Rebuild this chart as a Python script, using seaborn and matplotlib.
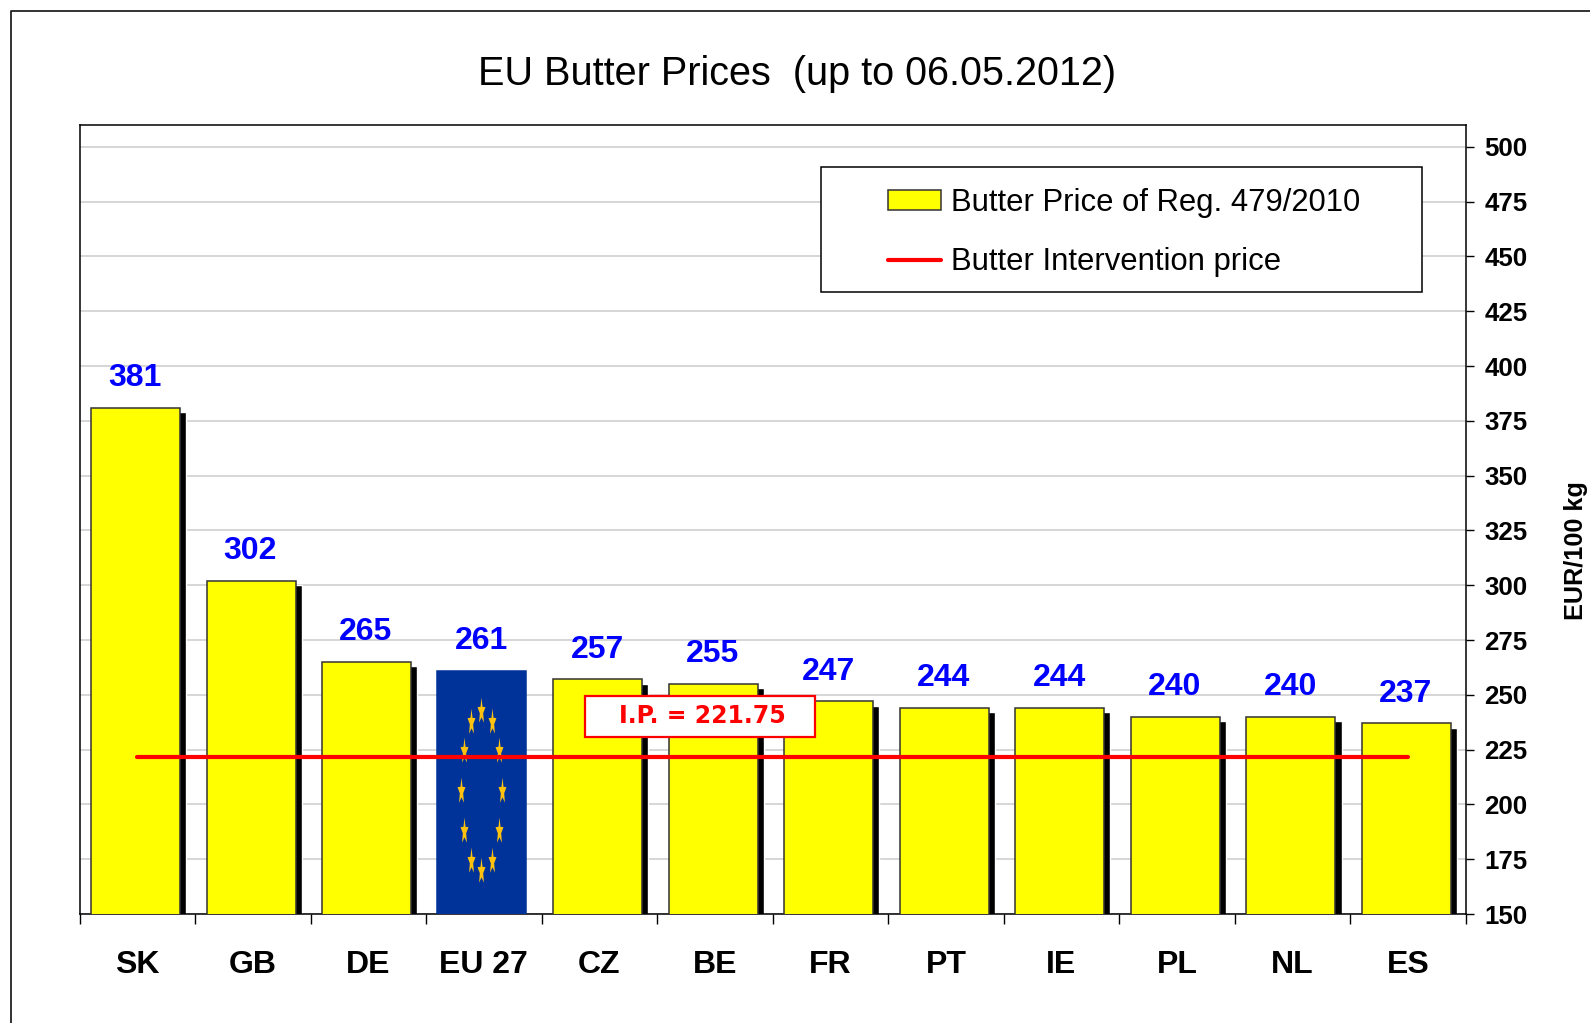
import matplotlib
matplotlib.use("Agg")
import matplotlib.pyplot as plt
from matplotlib.lines import Line2D
from matplotlib.patches import Patch, Rectangle
from matplotlib.path import Path
from matplotlib.ticker import FixedLocator
import seaborn as sns
import numpy as np
import pandas as pd

countries = ["SK", "GB", "DE", "EU 27", "CZ", "BE", "FR", "PT", "IE", "PL", "NL", "ES"]
prices = [381, 302, 265, 261, 257, 255, 247, 244, 244, 240, 240, 237]
intervention_price = 221.75
y_ticks = list(range(150, 525, 25))

sns.set_style("white")
plt.rcParams['font.family'] = ['Liberation Sans', 'DejaVu Sans']
plt.rcParams['text.color'] = 'black'
plt.rcParams['axes.labelcolor'] = 'black'
plt.rcParams['xtick.color'] = 'black'
plt.rcParams['ytick.color'] = 'black'

df = pd.DataFrame({"country": countries, "price": prices})
df["pos"] = range(len(df))
df["ip"] = intervention_price

W, H = 1590, 1023
fig = plt.figure(figsize=(W / 100, H / 100), dpi=100)
ax = fig.add_axes([79.5 / W, 1 - 914 / H, (1465.7 - 79.5) / W, (914 - 125) / H])

# black shadow behind each bar, shifted right and a bit lower (the flag bar has none)
shadow = df[df["country"] != "EU 27"]
ax.bar(shadow["pos"] + 0.04, shadow["price"] - 2, width=0.77, color="black", zorder=2)

colors = ["#003399" if c == "EU 27" else "#ffff00" for c in countries]
sns.barplot(data=df, x="country", y="price", hue="country", palette=colors, legend=False,
            width=0.77, saturation=1, edgecolor="#333333", linewidth=1.1, ax=ax, zorder=3)
for patch in ax.patches[len(shadow):]:
    patch.set_x(patch.get_x() - 0.013)
eu_pos = countries.index("EU 27")
ax.patches[len(shadow) + eu_pos].set_edgecolor("#003399")
ax.patches[len(shadow) + eu_pos].set_x(eu_pos - 0.385 - 0.02)

# EU flag stars on the EU 27 bar
star = Path.unit_regular_star(5, 0.42)
star = Path(star.vertices * [0.3, 1.0], star.codes)
angles = np.deg2rad(np.arange(0, 360, 30))
ax.scatter(eu_pos - 0.02 + 0.175 * np.cos(angles), 206 + 36.5 * np.sin(angles), marker=star,
           s=400, color="#ffc20e", linewidths=0, zorder=4)

sns.lineplot(data=df, x="pos", y="ip", color="#ff0000", linewidth=3, sort=False, ax=ax, zorder=5)

for x, v in zip(df["pos"], df["price"]):
    ax.annotate(str(v), (x - 0.02, v), xytext=(0, 10.5), textcoords="offset points", ha="center", va="bottom",
                color="#0000ff", fontsize=23, fontweight="bold", zorder=6)

ax.add_patch(Rectangle((3.876, 230.8), 1.991, 18.7, facecolor="white", edgecolor="#ff0000", linewidth=1.6, zorder=7))
ax.text(4.89, 240.4, "I.P. = 221.75", ha="center", va="center", color="#ff0000", fontsize=17,
        fontweight="bold", family="DejaVu Sans", zorder=8)

ax.set_xlim(-0.5, 11.5)
ax.set_ylim(150, 510)
ax.yaxis.tick_right()
ax.yaxis.set_label_position("right")
ax.set_yticks(y_ticks)
ax.set_xticks(df["pos"])
ax.set_xticklabels(countries)
ax.xaxis.set_minor_locator(FixedLocator(np.arange(-0.5, 12, 1)))
ax.tick_params(axis="x", which="major", length=0, pad=26, labelsize=23)
ax.tick_params(axis="x", which="minor", length=7.2, width=1, color="black", bottom=True)
ax.tick_params(axis="y", which="major", length=5.5, width=1, color="black", right=True, labelsize=18.6, pad=8)
for t in ax.get_xticklabels() + ax.get_yticklabels():
    t.set_fontweight("bold")
ax.set_xlabel("")
ax.set_ylabel("EUR/100 kg", fontsize=18.2, fontweight="bold", labelpad=26)
ax.yaxis.label.set_y((914 - 551) / (914 - 125))

ax.grid(axis="y", color="#cfcfcf", linewidth=1.2, zorder=0)
ax.set_axisbelow(True)
for s in ax.spines.values():
    s.set_visible(True)
    s.set_color("black")
    s.set_linewidth(1.1)

# legend box is wider than its contents, so the frame is drawn on its own
fig.add_artist(Rectangle((821 / W, 1 - 292 / H), (1422 - 821) / W, (292 - 167) / H, facecolor="white",
                         edgecolor="black", linewidth=1.1, transform=fig.transFigure, zorder=8))
handles = [Patch(facecolor="#ffff00", edgecolor="#333333", linewidth=1.1),
           Line2D([0], [0], color="#ff0000", linewidth=3)]
leg = fig.legend(handles, ["Butter Price of Reg. 479/2010", "Butter Intervention price"],
                 loc="upper left", bbox_to_anchor=(888 / W, 1 - 188 / H), borderaxespad=0, borderpad=0,
                 frameon=False, fontsize=22.3, handlelength=1.7, handleheight=0.6, handletextpad=0.33,
                 labelspacing=0.95)
leg.set_zorder(9)

fig.text(797 / W, 1 - 74 / H, "EU Butter Prices  (up to 06.05.2012)", ha="center", va="center", fontsize=28.5)

# outer frame, open on the right and bottom as in the cropped screenshot
fig.add_artist(Line2D([10.5 / W, 10.5 / W, 1], [0, 1 - 10.5 / H, 1 - 10.5 / H], color="#222222", linewidth=1.3))

fig.savefig("out.png", dpi=100)
